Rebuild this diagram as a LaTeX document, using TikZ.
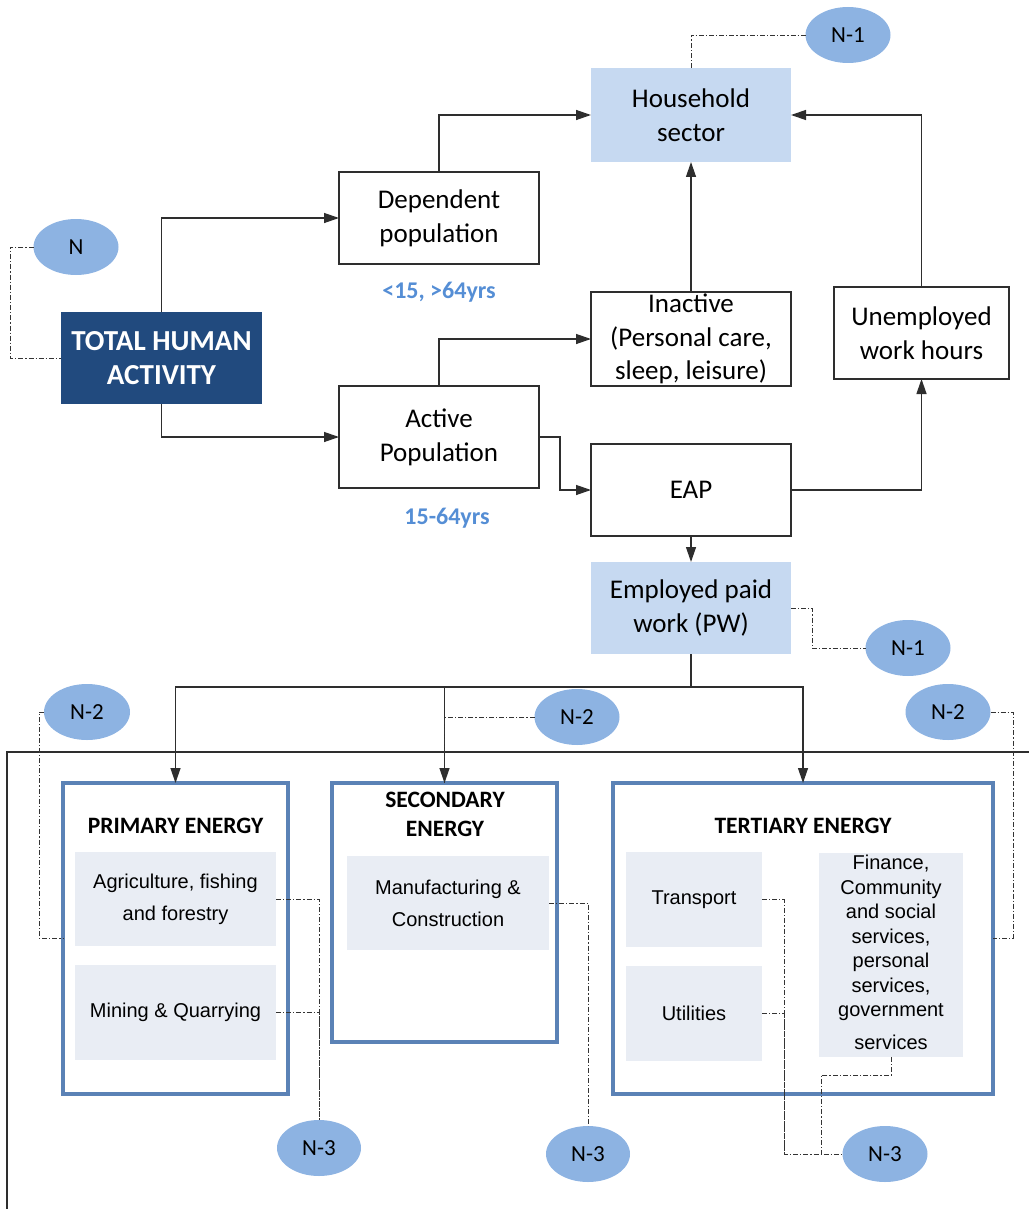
\documentclass[tikz,border=0pt]{standalone}
\usepackage{fontspec}
\setmainfont{Carlito}
\newfontfamily\arialfont{Liberation Sans}
\usetikzlibrary{arrows.meta,shapes.geometric,calc}

\definecolor{hhblue}{HTML}{C6D9F1}
\definecolor{darkblue}{HTML}{214A7E}
\definecolor{ovalblue}{HTML}{8DB3E2}
\definecolor{innergray}{HTML}{E9EDF4}
\definecolor{frameblue}{HTML}{5B82B6}
\definecolor{agecolor}{HTML}{558ED5}
\definecolor{linegray}{HTML}{2E2E2E}

\tikzset{
  flowbox/.style={draw=linegray, line width=1.3pt, rectangle, outer sep=0pt, inner sep=2pt,
    align=center, font=\fontsize{27}{34}\selectfont},
  shadebox/.style={rectangle, fill=hhblue, outer sep=0pt, inner sep=2pt, align=center,
    font=\fontsize{27}{34}\selectfont},
  topbox/.style={rectangle, fill=darkblue, text=white, outer sep=0pt, align=center,
    font=\fontsize{29}{34}\selectfont\bfseries},
  sectorbox/.style={rectangle, draw=frameblue, line width=4pt, outer sep=0pt},
  subbox/.style={rectangle, fill=innergray, outer sep=0pt, inner sep=2pt, align=center,
    font=\arialfont\fontsize{20}{32}\selectfont},
  tag/.style={ellipse, fill=ovalblue, inner sep=0pt, outer sep=0pt,
    font=\fontsize{23}{26}\selectfont},
  agelabel/.style={text=agecolor, font=\fontsize{24}{28}\selectfont\bfseries},
  sectortitle/.style={align=center, font=\fontsize{23.5}{29}\selectfont\bfseries},
  arr/.style={draw=linegray, line width=1.3pt, -{Triangle[length=15pt,width=10pt]}},
  plain/.style={draw=linegray, line width=1.3pt},
  dd/.style={draw=black!80, line width=0.9pt, dash pattern=on 5pt off 2pt on 1.2pt off 2pt},
}

\begin{document}
\begin{tikzpicture}[x=1pt,y=-1pt]
\useasboundingbox (0,0) rectangle (1029,1209);

% ---------- upper flow ----------
\node[shadebox, minimum width=200pt, minimum height=94pt] (hh) at (691,115) {Household\\sector};
\node[flowbox, minimum width=200pt, minimum height=92pt] (dep) at (439,218) {Dependent\\population};
\node[topbox, minimum width=201pt, minimum height=92pt] (tha) at (161.5,358) {TOTAL HUMAN\\ACTIVITY};
\node[flowbox, minimum width=200pt, minimum height=102pt] (act) at (439,437) {Active\\Population};
\node[flowbox, minimum width=200pt, minimum height=94pt, font=\fontsize{27}{33.5}\selectfont] (ina) at (691,339) {Inactive\\(Personal care,\\sleep, leisure)};
\node[flowbox, minimum width=175pt, minimum height=92pt] (une) at (921.5,333) {Unemployed\\work hours};
\node[flowbox, minimum width=200pt, minimum height=92pt] (eap) at (691,490) {EAP};
\node[shadebox, minimum width=200pt, minimum height=92pt] (emp) at (691,608) {Employed paid\\work (PW)};

\node[agelabel] (depage) at (439,292) {<15, >64yrs};
\node[agelabel] (actage) at (447,518) {15-64yrs};

% ---------- sector boxes ----------
\node[sectorbox, minimum width=225pt, minimum height=311pt] (pri) at (175.5,938.5) {};
\node[sectorbox, minimum width=225pt, minimum height=259pt] (sec) at (444.5,912.5) {};
\node[sectorbox, minimum width=380pt, minimum height=311pt] (ter) at (803,938.5) {};

\node[sectortitle] (prititle) at (175.5,826) {PRIMARY ENERGY};
\node[sectortitle] (sectitle) at (445,814.5) {SECONDARY\\ENERGY};
\node[sectortitle] (tertitle) at (803,826) {TERTIARY ENERGY};

\node[subbox, minimum width=201pt, minimum height=94pt] (agr) at (175.5,899) {Agriculture, fishing\\and forestry};
\node[subbox, minimum width=201pt, minimum height=95pt] (min) at (175.5,1012.5) {Mining \& Quarrying};
\node[subbox, minimum width=202pt, minimum height=94pt, text depth=0pt] (man) at (448,903) {Manufacturing \&\\Construction\rule[-2pt]{0pt}{2pt}};
\node[subbox, minimum width=136pt, minimum height=95pt] (tra) at (694,899.5) {\raisebox{-3pt}{Transport}};
\node[subbox, minimum width=136pt, minimum height=95pt] (uti) at (694,1013.5) {\raisebox{-2pt}{Utilities}};
\node[subbox, minimum width=144pt, minimum height=200pt, font=\arialfont\fontsize{20}{24.5}\selectfont] (fin) at (891,955)
  {Finance,\\Community\\and social\\services,\\personal\\services,\\government\\[8pt]services\rule[-6pt]{0pt}{6pt}};

% ---------- level tags ----------
\node[tag, minimum width=85pt, minimum height=56pt] (nN) at (76,247) {N};
\node[tag, minimum width=85pt, minimum height=56pt] (n1a) at (848,35) {N-1};
\node[tag, minimum width=85pt, minimum height=56pt] (n1b) at (908,648) {N-1};
\node[tag, minimum width=86pt, minimum height=56pt] (n2a) at (87,712) {N-2};
\node[tag, minimum width=85pt, minimum height=56pt] (n2b) at (577,717) {N-2};
\node[tag, minimum width=85pt, minimum height=56pt] (n2c) at (948,712) {N-2};
\node[tag, minimum width=84pt, minimum height=56pt] (n3a) at (319,1148) {N-3};
\node[tag, minimum width=84pt, minimum height=56pt] (n3b) at (588,1154) {N-3};
\node[tag, minimum width=85pt, minimum height=56pt] (n3c) at (885,1154) {N-3};

% ---------- helper coordinates for routing ----------
\coordinate (kact) at (560,0);
\coordinate (bus) at (0,687);
\coordinate (dN) at (10,0);
\coordinate (dpw) at (812,0);
\coordinate (dpri) at (39,0);
\coordinate (dter) at (1013,0);
\coordinate (dtra) at (784,0);
\coordinate (dfin) at (821,1075);
\coordinate (frameBL) at (7,1209);
\coordinate (frameTL) at (7,752);
\coordinate (frameTR) at (1029,752);

% ---------- solid connectors ----------
\draw[arr] (tha.north) |- (dep.west);
\draw[arr] (tha.south) |- (act.west);
\draw[arr] (dep.north) |- (hh.west);
\draw[arr] (act.north) |- (ina.west);
\draw[arr] (act.east) -| (kact |- eap.west) -- (eap.west);
\draw[arr] (ina.north) -- (hh.south);
\draw[arr] (une.north) |- (hh.east);
\draw[arr] (eap.east) -| (une.south);
\draw[arr] (eap.south) -- (emp.north);
\draw[plain] (emp.south) -- (emp.south |- bus);
\draw[arr] (emp.south |- bus) -| (pri.north);
\draw[arr] (emp.south |- bus) -| (sec.north);
\draw[arr] (emp.south |- bus) -| (ter.north);

% open frame around the sectors
\draw[plain] (frameBL) -- (frameTL) -- (frameTR);

% ---------- dash-dot tag links ----------
\draw[dd] (nN.west) -| (dN |- tha.west) -- (tha.west);
\draw[dd] (hh.north) |- (n1a.west);
\draw[dd] (emp.east) -| (dpw |- n1b.west) -- (n1b.west);
\draw[dd] (n2a.west) -| (dpri |- pri.west) -- (pri.west);
\draw[dd] (n2b.west) -| (sec.north);
\draw[dd] (n2c.east) -| (dter |- ter.east) -- (ter.east);
\draw[dd] (agr.east) -| (n3a.north);
\draw[dd] (min.east) -| (n3a.north);
\draw[dd] (man.east) -| (n3b.north);
\draw[dd] (tra.east) -| (dtra |- n3c.west) -- (n3c.west);
\draw[dd] (uti.east) -| (dtra |- n3c.west);
\draw[dd] (fin.south) |- (dfin) -- (dfin |- n3c.west);
\end{tikzpicture}
\end{document}
